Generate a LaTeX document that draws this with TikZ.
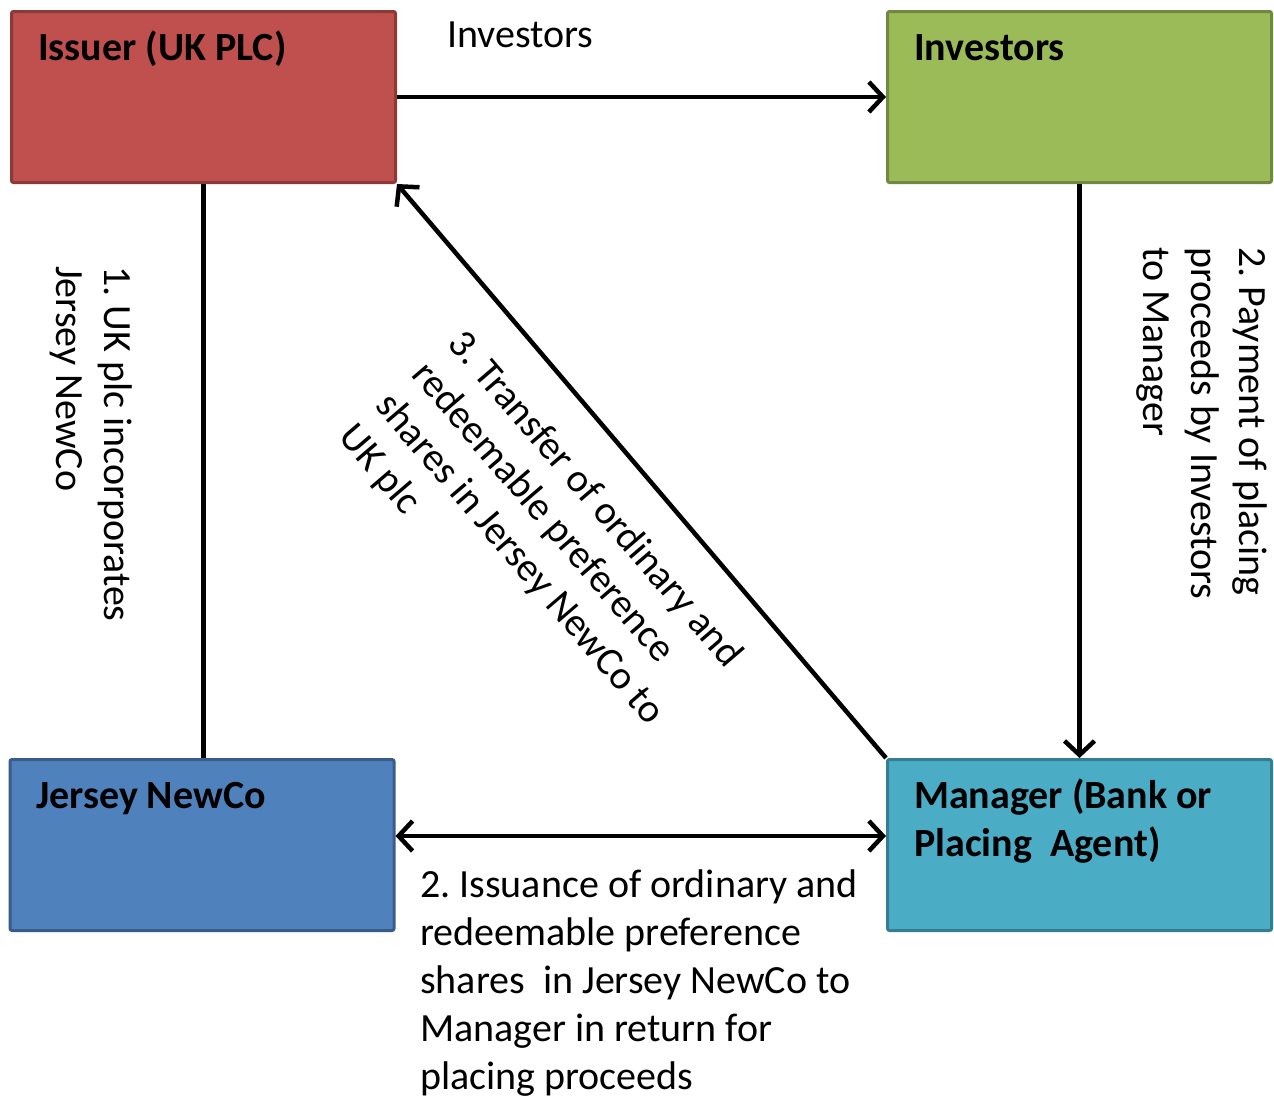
\documentclass[tikz,border=0pt]{standalone}
\usepackage{fontspec}
\setmainfont{Carlito}
\usetikzlibrary{arrows.meta}
\definecolor{redfill}{HTML}{C0504D}
\definecolor{reddraw}{HTML}{8C3A38}
\definecolor{greenfill}{HTML}{9BBB59}
\definecolor{greendraw}{HTML}{71893F}
\definecolor{bluefill}{HTML}{4F81BD}
\definecolor{bluedraw}{HTML}{385D8A}
\definecolor{aquafill}{HTML}{4BACC6}
\definecolor{aquadraw}{HTML}{357D91}
\frenchspacing
\begin{document}
\begin{tikzpicture}[x=1pt,y=-1pt,
  box/.style={draw, line width=3pt, rounded corners=2pt, inner sep=0pt,
    minimum width=384pt, minimum height=171pt},
  title/.style={font={\fontsize{40}{48}\selectfont\bfseries}, inner sep=0pt, align=left},
  lbl/.style={font={\fontsize{40}{48}\selectfont}, inner sep=0pt, align=left, anchor=north west},
  conn/.style={line width=4.5pt, draw=black},
  tip/.tip={Straight Barb[length=14pt,width=30pt]}
]
\useasboundingbox (0,0) rectangle (1274,1095);
\fill[white] (0,0) rectangle (1274,1095);

% boxes
\node[box, fill=redfill, draw=reddraw] (issuer) at (203.5,97) {};
\node[box, fill=greenfill, draw=greendraw] (investors) at (1079.5,97) {};
\node[box, fill=bluefill, draw=bluedraw] (jersey) at (202,845) {};
\node[box, fill=aquafill, draw=aquadraw] (manager) at (1079.5,845) {};

% titles
\node[title, anchor=base west] (issuerT) at (38,60) {Issuer (UK PLC)};
\node[title, anchor=base west] (investorsT) at (914,60) {Investors};
\node[title, anchor=base west] (jerseyT) at (36,808) {Jersey NewCo};
\node[title, anchor=north west] (managerT) at (914,774.4) {\strut Manager (Bank or\\Placing\ \ Agent)};

% connectors
\draw[conn, -{tip}] (issuer.east) -- (investors.west);
\draw[conn] (issuer.south) -- (issuer.south |- jersey.north);
\draw[conn, -{tip}] (investors.south) -- (manager.north);
\draw[conn, {tip}-{tip}] ([yshift=9pt]jersey.east) -- ([yshift=9pt]manager.west);
\draw[conn, -{tip}] (manager.north west) -- (issuer.south east);

% labels
\node[lbl, anchor=base west] (topL) at (447,47) {Investors};
\node[lbl, rotate=-90] (l1) at (138.6,266) {\strut 1. UK plc incorporates\\Jersey NewCo};
\node[lbl, rotate=-90] (l2) at (1273.6,247) {\strut 2. Payment of placing\\proceeds by Investors\\to Manager};
\node[lbl, rotate=-49.4] (l3) at (472.5,322.1) {\strut 3. Transfer of ordinary and\\redeemable preference\\shares in Jersey NewCo to\\UK plc};
\node[lbl] (l4) at (420,863.4) {\strut 2. Issuance of ordinary and\\redeemable preference\\shares\ \ in Jersey NewCo to\\Manager in return for\\placing proceeds};
\end{tikzpicture}
\end{document}
